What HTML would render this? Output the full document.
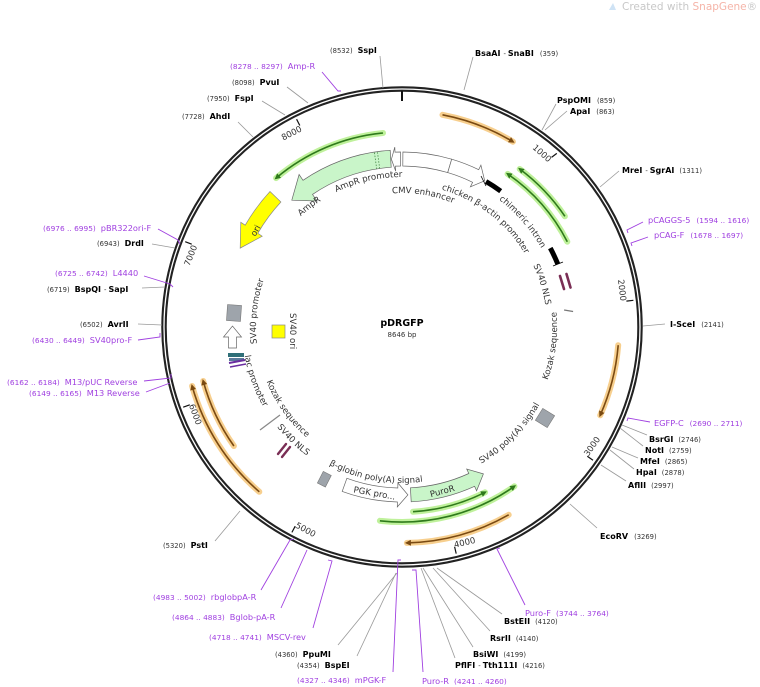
<!DOCTYPE html>
<html><head><meta charset="utf-8"><style>
html,body{margin:0;padding:0;background:#fff;}
svg{display:block;font-family:"DejaVu Sans","Liberation Sans",sans-serif;}
.n{font-size:6.8px;fill:#333;}
.b{font-size:8px;font-weight:bold;fill:#000;}
.p{font-size:7.4px;fill:#a040e0;}
.pb{font-size:8.2px;fill:#a040e0;}
.f{font-size:8.6px;fill:#333;}
.t{font-size:8.2px;fill:#333;}
.el{stroke:#999;stroke-width:0.8;fill:none;}
.pl{stroke:#a040e0;stroke-width:0.9;fill:none;}
.og{stroke:#f6c77a;stroke-width:6;fill:none;opacity:.85;stroke-linecap:round;}
.oc{stroke:#7a4a12;stroke-width:1.6;fill:none;}
.gg{stroke:#b8ef90;stroke-width:6;fill:none;opacity:.9;stroke-linecap:round;}
.gc{stroke:#2f7a1c;stroke-width:1.6;fill:none;}
</style></head><body>
<svg width="760" height="687" viewBox="0 0 760 687" xmlns="http://www.w3.org/2000/svg">
<defs>
<marker id="ao" markerWidth="6" markerHeight="6" refX="4" refY="3" orient="auto" markerUnits="userSpaceOnUse"><path d="M0,0 L6,3 L0,6 Z" fill="#7a4a12"/></marker>
<marker id="ag" markerWidth="6" markerHeight="6" refX="4" refY="3" orient="auto" markerUnits="userSpaceOnUse"><path d="M0,0 L6,3 L0,6 Z" fill="#2f7a1c"/></marker>
<path id="cwB134" d="M402,461 A134 134 0 1 1 402,193 A134 134 0 1 1 402,461"/>
<path id="cw150" d="M402,177 A150 150 0 1 1 402,477 A150 150 0 1 1 402,177"/>
<path id="cw143" d="M402,184 A143 143 0 1 1 402,470 A143 143 0 1 1 402,184"/>
<path id="cw160" d="M402,167 A160 160 0 1 1 402,487 A160 160 0 1 1 402,167"/>
<path id="cw145" d="M402,182 A145 145 0 1 1 402,472 A145 145 0 1 1 402,182"/>
<path id="cw146" d="M402,181 A146 146 0 1 1 402,473 A146 146 0 1 1 402,181"/>
<path id="ccw155" d="M402,172 A155 155 0 1 0 402,482 A155 155 0 1 0 402,172"/>
<path id="ccw158" d="M402,169 A158 158 0 1 0 402,485 A158 158 0 1 0 402,169"/>
<path id="ccw156" d="M402,171 A156 156 0 1 0 402,483 A156 156 0 1 0 402,171"/>
<path id="ccw160" d="M402,167 A160 160 0 1 0 402,487 A160 160 0 1 0 402,167"/>
<path id="ccw146" d="M402,181 A146 146 0 1 0 402,473 A146 146 0 1 0 402,181"/>
</defs>

<!-- watermark -->
<path d="M609,10 L613,3 L616,10 Z" fill="#cfe3f5"/>
<text x="622" y="10" style="font-size:10.5px;fill:#c8c8c8">Created with <tspan style="fill:#f5b4a8">SnapGene</tspan>®</text>

<!-- ring -->
<circle cx="402" cy="327" r="238" fill="none" stroke="#222" stroke-width="5.5"/>
<circle cx="402" cy="327" r="238" fill="none" stroke="#fff" stroke-width="1.3"/>
<line x1="402" y1="91" x2="402" y2="101" stroke="#111" stroke-width="2"/>

<!-- number ticks -->
<g stroke="#111" stroke-width="1.2">
<line x1="556.8" y1="153.4" x2="551.5" y2="157.4"/>
<line x1="633.4" y1="300.3" x2="626.4" y2="301.1"/>
<line x1="593" y1="460.3" x2="587.3" y2="456.3"/>
<line x1="456.2" y1="553.6" x2="454.6" y2="546.8"/>
<line x1="291.9" y1="532.4" x2="295.2" y2="526.2"/>
<line x1="183.2" y1="407.2" x2="189.8" y2="404.8"/>
<line x1="185.2" y1="241.7" x2="191.7" y2="244.2"/>
<line x1="296.6" y1="119.2" x2="299.8" y2="125.5"/>
</g>
<g class="t" style="font-size:8.5px">
<text transform="translate(548.2,162.6) rotate(41.6)" text-anchor="end">1000</text>
<text transform="translate(620.5,301.3) rotate(83.3)" text-anchor="end">2000</text>
<text transform="translate(588.2,456.9) rotate(-55.1)">3000</text>
<text transform="translate(454.8,547.8) rotate(-13.4)">4000</text>
<text transform="translate(294.7,527.1) rotate(28.2)">5000</text>
<text transform="translate(188.9,405.2) rotate(69.8)">6000</text>
<text transform="translate(197.3,246.4) rotate(-68.5)" text-anchor="end">7000</text>
<text transform="translate(302.5,130.8) rotate(-26.9)" text-anchor="end">8000</text>
</g>

<!-- orange arrows -->
<path class="og" d="M442.5,114.8 A216 216 0 0 1 512.9,141.7"/>
<path class="oc" d="M442.5,114.8 A216 216 0 0 1 512.9,141.7" marker-end="url(#ao)"/>
<path class="og" d="M618.2,345.2 A217 217 0 0 1 600.2,415.3"/>
<path class="oc" d="M618.2,345.2 A217 217 0 0 1 600.2,415.3" marker-end="url(#ao)"/>
<path class="og" d="M508.7,514.8 A216 216 0 0 1 406.9,542.9"/>
<path class="oc" d="M508.7,514.8 A216 216 0 0 1 406.9,542.9" marker-end="url(#ao)"/>
<path class="og" d="M259.3,491.8 A218 218 0 0 1 192.1,386"/>
<path class="oc" d="M259.3,491.8 A218 218 0 0 1 192.1,386" marker-end="url(#ao)"/>
<path class="og" d="M233.9,446 A206 206 0 0 1 203.2,381"/>
<path class="oc" d="M233.9,446 A206 206 0 0 1 203.2,381" marker-end="url(#ao)"/>

<!-- green arrows -->
<path class="gg" d="M383,133 A195 195 0 0 0 276.1,178.1"/>
<path class="gc" d="M383,133 A195 195 0 0 0 276.1,178.1" marker-end="url(#ag)"/>
<path class="gg" d="M564.9,216.3 A197 197 0 0 0 519.7,169"/>
<path class="gc" d="M564.9,216.3 A197 197 0 0 0 519.7,169" marker-end="url(#ag)"/>
<path class="gg" d="M567.3,241.7 A186 186 0 0 0 507.6,173.9"/>
<path class="gc" d="M567.3,241.7 A186 186 0 0 0 507.6,173.9" marker-end="url(#ag)"/>
<path class="gg" d="M413,511.7 A185 185 0 0 0 485.1,492.3"/>
<path class="gc" d="M413,511.7 A185 185 0 0 0 485.1,492.3" marker-end="url(#ag)"/>
<path class="gg" d="M379.9,520.8 A195 195 0 0 0 514.4,486.3"/>
<path class="gc" d="M379.9,520.8 A195 195 0 0 0 514.4,486.3" marker-end="url(#ag)"/>

<!-- block features -->
<path d="M390.2,150.3 A177 177 0 0 0 303,180.3 L299.1,174.5 L291.8,200.2 L317,201 L312.5,194.4 A160 160 0 0 1 391.2,167.3 Z" fill="#c9f5c9" stroke="#666" stroke-width="0.7"/>
<line x1="379.7" y1="168.6" x2="377.4" y2="151.7" stroke="#4a8a4a" stroke-width="0.8" stroke-dasharray="1.5,1.5"/>
<line x1="376.7" y1="169" x2="374.4" y2="152.2" stroke="#4a8a4a" stroke-width="0.8" stroke-dasharray="1.5,1.5"/>
<path d="M400.5,152 L395,152.1 L394.8,147.1 L391.4,159.3 L395.7,171.1 L395.5,166.1 L400.6,166 Z" fill="#fff" stroke="#666" stroke-width="0.7"/>
<path d="M402.9,152 A175 175 0 0 1 451.7,159.2 L447.7,172.6 A161 161 0 0 0 402.8,166 Z" fill="#fff" stroke="#666" stroke-width="0.7"/>
<path d="M451.7,159.2 A175 175 0 0 1 478.7,169.7 L480.9,165.2 L484.7,180.8 L470.4,186.8 L472.6,182.3 A161 161 0 0 0 447.7,172.6 Z" fill="#fff" stroke="#666" stroke-width="0.7"/>
<path d="M486,181.5 A168 168 0 0 1 500.7,191.1" stroke="#000" stroke-width="5" fill="none"/>
<line x1="481" y1="176" x2="486" y2="186" stroke="#000" stroke-width="0.8"/>
<path d="M550.3,248.1 A168 168 0 0 1 557.8,264.1" stroke="#000" stroke-width="5" fill="none"/>
<line x1="553" y1="266" x2="563" y2="262" stroke="#000" stroke-width="0.8"/>
<g stroke="#7a2e55" stroke-width="2.6" stroke-linecap="round">
<line x1="560" y1="276" x2="564" y2="289"/><line x1="566.5" y1="274" x2="570.5" y2="287.5"/>
</g>
<line x1="564.1" y1="310" x2="573.1" y2="311.5" stroke="#777" stroke-width="1.2"/>
<rect x="538" y="411" width="14" height="14" fill="#9ea4ab" stroke="#777" stroke-width="0.6" transform="rotate(32 545 418)"/>
<path d="M410.4,487.8 A161 161 0 0 0 468.8,473.5 L466.7,469 L483.4,473.9 L476.6,490.8 L474.6,486.3 A175 175 0 0 1 411.2,501.8 Z" fill="#c9f5c9" stroke="#666" stroke-width="0.7"/>
<path d="M346.9,478.3 A161 161 0 0 0 397.8,488 L397.9,483 L407.9,494.9 L397.3,506.9 L397.4,502 A175 175 0 0 1 342.2,491.4 Z" fill="#fff" stroke="#666" stroke-width="0.7"/>
<rect x="320" y="473" width="9" height="13" fill="#9ea4ab" stroke="#777" stroke-width="0.6" transform="rotate(27 325 479)"/>
<path d="M270,191.5 A187 187 0 0 0 245.2,225.2 L240.8,222.3 L240.2,248.1 L262.2,236.2 L257.8,233.3 A173 173 0 0 1 280.9,202 Z" fill="#ffff00" stroke="#888" stroke-width="0.7"/>
<rect x="227" y="305" width="14" height="16" fill="#9ea4ab" stroke="#777" stroke-width="0.6" transform="rotate(4 234 313)"/>
<path d="M228.5,348 L228.5,337 L223.5,337 L232.5,326 L241.5,337 L236.5,337 L236.5,348 Z" fill="#fff" stroke="#666" stroke-width="0.7"/>
<rect x="228" y="353" width="16" height="4" fill="#2f6f78"/>
<rect x="229" y="358" width="15" height="3" fill="#5a7a9a"/>
<line x1="229" y1="363" x2="245" y2="360" stroke="#6a2ea0" stroke-width="2"/>
<line x1="230" y1="367" x2="246" y2="364" stroke="#6a2ea0" stroke-width="1.5"/>
<rect x="272" y="325" width="13" height="13" fill="#ffff00" stroke="#888" stroke-width="0.7"/>
<line x1="260" y1="430" x2="280" y2="415" stroke="#888" stroke-width="1.2"/>
<g stroke="#7a2e55" stroke-width="2.4" stroke-linecap="round">
<line x1="278" y1="454" x2="286" y2="444"/><line x1="282" y1="457" x2="290" y2="447"/>
</g>

<!-- feature labels -->
<g class="f">
<text><textPath href="#cw150" startOffset="831">AmpR</textPath></text>
<text><textPath href="#cw150" startOffset="874">AmpR promoter</textPath></text>
<text><textPath href="#cwB134" startOffset="411">CMV enhancer</textPath></text>
<text><textPath href="#cw143" startOffset="40">chicken β-actin promoter</textPath></text>
<text><textPath href="#cw160" startOffset="104">chimeric intron</textPath></text>
<text><textPath href="#cw145" startOffset="164">SV40 NLS</textPath></text>
<text><textPath href="#ccw155" startOffset="676">Kozak sequence</textPath></text>
<text><textPath href="#ccw158" startOffset="579">SV40 poly(A) signal</textPath></text>
<text><textPath href="#ccw156" startOffset="414">β-globin poly(A) signal</textPath></text>
<text><textPath href="#cw146" startOffset="671">SV40 promoter</textPath></text>
<text><textPath href="#ccw160" startOffset="280">lac promoter</textPath></text>
<text><textPath href="#ccw146" startOffset="285">Kozak sequence</textPath></text>
<text><textPath href="#ccw160" startOffset="359">SV40 NLS</textPath></text>
<text transform="translate(290,313) rotate(90)">SV40 ori</text>
<text transform="translate(258,232) rotate(-60)" text-anchor="middle">ori</text>
<text transform="translate(443,494) rotate(-15)" text-anchor="middle">PuroR</text>
<text transform="translate(374,496) rotate(10)" text-anchor="middle">PGK pro...</text>
</g>

<text x="402" y="326" text-anchor="middle" style="font-size:9.5px;font-weight:bold;fill:#000">pDRGFP</text>
<text x="402" y="337" text-anchor="middle" style="font-size:7px;fill:#333">8646 bp</text>

<!-- connector lines -->
<g class="el">
<line x1="380" y1="56" x2="383" y2="88"/>
<line x1="287" y1="87" x2="308" y2="103"/>
<line x1="262" y1="101" x2="285" y2="115"/>
<line x1="238" y1="122" x2="253" y2="137"/>
<line x1="152" y1="244" x2="175" y2="248"/>
<line x1="142" y1="288" x2="165" y2="287"/>
<line x1="138" y1="324" x2="162" y2="325"/>
<line x1="215" y1="541" x2="240" y2="511"/>
<line x1="338" y1="645" x2="397" y2="573"/>
<line x1="357" y1="656" x2="396" y2="573"/>
<line x1="455" y1="658" x2="421" y2="568"/>
<line x1="473" y1="647" x2="423" y2="568"/>
<line x1="490" y1="631" x2="433" y2="568"/>
<line x1="502" y1="614" x2="437" y2="568"/>
<line x1="597" y1="528" x2="570" y2="504"/>
<line x1="626" y1="481" x2="601" y2="465"/>
<line x1="634" y1="469" x2="610" y2="450"/>
<line x1="638" y1="458" x2="612" y2="447"/>
<line x1="643" y1="446" x2="620" y2="428"/>
<line x1="647" y1="435" x2="622" y2="425"/>
<line x1="665" y1="324" x2="643" y2="326"/>
<line x1="619" y1="171" x2="600" y2="187"/>
<line x1="556" y1="104" x2="542" y2="130"/>
<line x1="567" y1="111" x2="545" y2="130"/>
<line x1="473" y1="57" x2="464" y2="90"/>
</g>
<g class="pl">
<polyline points="322,72 338,91 341,91"/>
<polyline points="158,229 178,240 180,244"/>
<polyline points="144,276 170,284 173,287"/>
<polyline points="138,340 160,337 160,333"/>
<polyline points="144,381 171,378 171,374"/>
<polyline points="146,392 170,383"/>
<polyline points="261,590 290,540 294,539"/>
<polyline points="281,608 307,550"/>
<polyline points="313,628 332,561 328,560"/>
<polyline points="393,672 398,560 401,560"/>
<polyline points="423,672 416,570 412,570"/>
<polyline points="525,605 497,549 500,548"/>
<polyline points="650,422 628,418 627,421"/>
<polyline points="643,222 627,230 628,233"/>
<polyline points="648,237 631,243 632,246"/>
</g>

<!-- labels -->
<text x="330" y="53"><tspan class="n">(8532)</tspan><tspan class="b" dx="5">SspI</tspan></text>
<text x="230" y="69"><tspan class="p">(8278 .. 8297)</tspan><tspan class="pb" dx="5">Amp-R</tspan></text>
<text x="232" y="85"><tspan class="n">(8098)</tspan><tspan class="b" dx="5">PvuI</tspan></text>
<text x="207" y="101"><tspan class="n">(7950)</tspan><tspan class="b" dx="5">FspI</tspan></text>
<text x="182" y="119"><tspan class="n">(7728)</tspan><tspan class="b" dx="5">AhdI</tspan></text>
<text x="43" y="231"><tspan class="p">(6976 .. 6995)</tspan><tspan class="pb" dx="5">pBR322ori-F</tspan></text>
<text x="97" y="246"><tspan class="n">(6943)</tspan><tspan class="b" dx="5">DrdI</tspan></text>
<text x="55" y="276"><tspan class="p">(6725 .. 6742)</tspan><tspan class="pb" dx="5">L4440</tspan></text>
<text x="47" y="292"><tspan class="n">(6719)</tspan><tspan class="b" dx="5">BspQI</tspan><tspan class="n" dx="3">-</tspan><tspan class="b" dx="2">SapI</tspan></text>
<text x="80" y="327"><tspan class="n">(6502)</tspan><tspan class="b" dx="5">AvrII</tspan></text>
<text x="32" y="343"><tspan class="p">(6430 .. 6449)</tspan><tspan class="pb" dx="5">SV40pro-F</tspan></text>
<text x="7" y="385"><tspan class="p">(6162 .. 6184)</tspan><tspan class="pb" dx="5">M13/pUC Reverse</tspan></text>
<text x="29" y="396"><tspan class="p">(6149 .. 6165)</tspan><tspan class="pb" dx="5">M13 Reverse</tspan></text>
<text x="163" y="548"><tspan class="n">(5320)</tspan><tspan class="b" dx="5">PstI</tspan></text>
<text x="153" y="600"><tspan class="p">(4983 .. 5002)</tspan><tspan class="pb" dx="5">rbglobpA-R</tspan></text>
<text x="172" y="620"><tspan class="p">(4864 .. 4883)</tspan><tspan class="pb" dx="5">Bglob-pA-R</tspan></text>
<text x="209" y="640"><tspan class="p">(4718 .. 4741)</tspan><tspan class="pb" dx="5">MSCV-rev</tspan></text>
<text x="275" y="657"><tspan class="n">(4360)</tspan><tspan class="b" dx="5">PpuMI</tspan></text>
<text x="297" y="668"><tspan class="n">(4354)</tspan><tspan class="b" dx="5">BspEI</tspan></text>
<text x="297" y="683"><tspan class="p">(4327 .. 4346)</tspan><tspan class="pb" dx="5">mPGK-F</tspan></text>
<text x="422" y="684"><tspan class="pb">Puro-R</tspan><tspan class="p" dx="5">(4241 .. 4260)</tspan></text>
<text x="455" y="668"><tspan class="b">PflFI</tspan><tspan class="n" dx="3">-</tspan><tspan class="b" dx="2">Tth111I</tspan><tspan class="n" dx="5">(4216)</tspan></text>
<text x="473" y="657"><tspan class="b">BsiWI</tspan><tspan class="n" dx="5">(4199)</tspan></text>
<text x="490" y="641"><tspan class="b">RsrII</tspan><tspan class="n" dx="5">(4140)</tspan></text>
<text x="504" y="624"><tspan class="b">BstEII</tspan><tspan class="n" dx="5">(4120)</tspan></text>
<text x="525" y="616"><tspan class="pb">Puro-F</tspan><tspan class="p" dx="5">(3744 .. 3764)</tspan></text>
<text x="600" y="539"><tspan class="b">EcoRV</tspan><tspan class="n" dx="6">(3269)</tspan></text>
<text x="628" y="488"><tspan class="b">AflII</tspan><tspan class="n" dx="5">(2997)</tspan></text>
<text x="636" y="475"><tspan class="b">HpaI</tspan><tspan class="n" dx="5">(2878)</tspan></text>
<text x="640" y="464"><tspan class="b">MfeI</tspan><tspan class="n" dx="5">(2865)</tspan></text>
<text x="645" y="453"><tspan class="b">NotI</tspan><tspan class="n" dx="5">(2759)</tspan></text>
<text x="649" y="442"><tspan class="b">BsrGI</tspan><tspan class="n" dx="5">(2746)</tspan></text>
<text x="654" y="426"><tspan class="pb">EGFP-C</tspan><tspan class="p" dx="6">(2690 .. 2711)</tspan></text>
<text x="670" y="327"><tspan class="b">I-SceI</tspan><tspan class="n" dx="6">(2141)</tspan></text>
<text x="648" y="223"><tspan class="pb">pCAGGS-5</tspan><tspan class="p" dx="6">(1594 .. 1616)</tspan></text>
<text x="654" y="238"><tspan class="pb">pCAG-F</tspan><tspan class="p" dx="6">(1678 .. 1697)</tspan></text>
<text x="622" y="173"><tspan class="b">MreI</tspan><tspan class="n" dx="3">-</tspan><tspan class="b" dx="2">SgrAI</tspan><tspan class="n" dx="5">(1311)</tspan></text>
<text x="557" y="103"><tspan class="b">PspOMI</tspan><tspan class="n" dx="6">(859)</tspan></text>
<text x="570" y="114"><tspan class="b">ApaI</tspan><tspan class="n" dx="6">(863)</tspan></text>
<text x="475" y="56"><tspan class="b">BsaAI</tspan><tspan class="n" dx="3">-</tspan><tspan class="b" dx="2">SnaBI</tspan><tspan class="n" dx="6">(359)</tspan></text>
</svg>
</body></html>
